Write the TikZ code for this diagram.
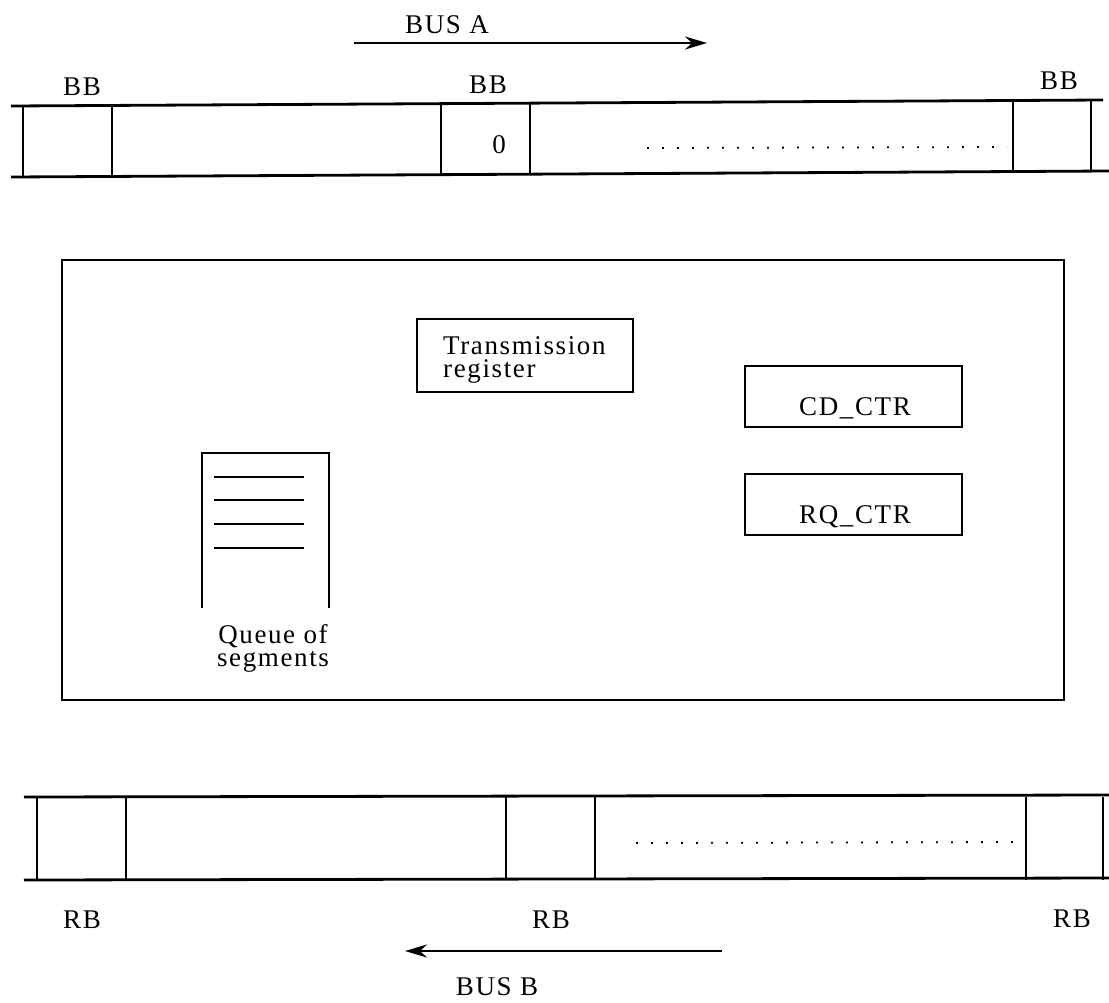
\documentclass[tikz,border=0pt]{standalone}
\usepackage{fontspec}
\setmainfont{Liberation Serif}[LetterSpace=6]
\usetikzlibrary{arrows.meta}
\begin{document}
\begin{tikzpicture}[x=1pt,y=-1pt,
  lbl/.style={font=\fontsize{27}{23}\selectfont, inner sep=0pt, anchor=base},
  busline/.style={line width=2.8pt},
  cell/.style={line width=1.7pt},
  boxline/.style={draw, line width=1.9pt, inner sep=0pt},
  qline/.style={line width=2.4pt},
  dots/.style={line width=1.8pt, dash pattern=on 1.8pt off 13.2pt},
  busarrow/.style={line width=2.8pt, -{Stealth[length=22pt,width=13pt]}},
]
\fill[white] (0,0) rectangle (1109,1002);
\useasboundingbox (0,0) rectangle (1109,1002);

% ---------- BUS A ----------
\node[lbl] (busA) at (447,33) {BUS A};
\coordinate (busAs) at (354,43);
\coordinate (busAe) at (707,43);
\draw[busarrow] (busAs) -- (busAe);

\node[lbl] (bb1) at (82,95) {BB};
\node[lbl] (bb2) at (488,93) {BB};
\node[lbl] (bb3) at (1059,89) {BB};

\coordinate (taL) at (11,106);  \coordinate (taR) at (1103,100);
\coordinate (tbL) at (11,177);  \coordinate (tbR) at (1109,171);
\draw[busline] (taL) -- (taR);
\draw[busline] (tbL) -- (tbR);
\foreach \x/\yt/\yb in {23/105.9/176.9, 112/105.4/176.4, 441/103.6/174.6,
                        530/103.1/174.1, 1013/100.5/171.5, 1091/100.1/171.1}
  \draw[cell] (\x,\yt) -- (\x,\yb);
\node[lbl] (zero) at (499,153) {0};
\draw[dots] (647,148) -- (1007,147);

% ---------- station ----------
\node[boxline, minimum width=1002pt, minimum height=440pt] (station) at (563,480) {};

\node[boxline, minimum width=216pt, minimum height=73pt] (txreg) at (525,355.5) {};
\node[lbl, anchor=north west, align=left] (txtext) at (443,336.6) {Transmission\\register};

\node[boxline, minimum width=217pt, minimum height=61pt] (cdbox) at (853.5,396.5) {};
\node[lbl] (cd) at (855,415) {CD\_CTR};
\node[boxline, minimum width=217pt, minimum height=61pt] (rqbox) at (853.5,504.5) {};
\node[lbl] (rq) at (855,523) {RQ\_CTR};

\draw[cell] (202,608) -- (202,453) -- (329,453) -- (329,608);
\foreach \y in {477,500,524,548}
  \draw[qline] (214,\y) -- (304,\y);
\node[lbl, anchor=north, align=center] (queue) at (273,624.6) {Queue of\\segments};

% ---------- BUS B ----------
\draw[busline] (24,797) -- (1109,795);
\draw[busline] (24,880) -- (1109,878);
\foreach \x in {37,126,506,595,1026,1103}
  \draw[cell] (\x,796.5) -- (\x,879.5);
\draw[dots] (636,843) -- (1017,842);

\node[lbl] (rb1) at (82,928) {RB};
\node[lbl] (rb2) at (551,928) {RB};
\node[lbl] (rb3) at (1072,927) {RB};

\coordinate (busBs) at (722,951);
\coordinate (busBe) at (405,951);
\draw[busarrow] (busBs) -- (busBe);
\node[lbl] (busB) at (497,995) {BUS B};
\end{tikzpicture}
\end{document}
